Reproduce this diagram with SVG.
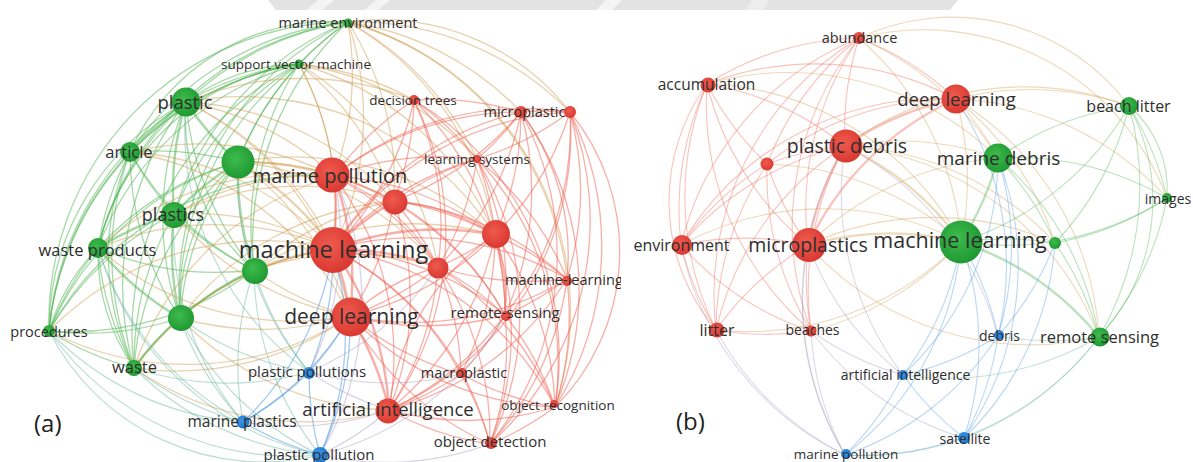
<svg xmlns="http://www.w3.org/2000/svg" width="1193" height="462" viewBox="0 0 1193 462">
<defs>
<style>
.g path,.r path,.b path,.o path,.t path,.p path{fill:none;stroke-linecap:round}
.g{stroke:#4db34f;stroke-opacity:.5;stroke-width:1.3}
.r{stroke:#f0604f;stroke-opacity:.5;stroke-width:1.3}
.b{stroke:#4a96e0;stroke-opacity:.5;stroke-width:1.3}
.o{stroke:#cf9a4c;stroke-opacity:.45;stroke-width:1.3}
.t{stroke:#6ab6a0;stroke-opacity:.45;stroke-width:1.2}
.p{stroke:#a89ac0;stroke-opacity:.45;stroke-width:1.2}
.w{stroke-width:2.4}
.lt{stroke-opacity:.38;stroke-width:1.1}
.ng{fill:url(#gg)}
.nr{fill:url(#gr)}
.nb{fill:url(#gb)}
text{font-family:"Open Sans","Noto Sans","DejaVu Sans",sans-serif;fill:#2e2e2e;text-anchor:middle}
.pl{font-size:24px;fill:#222;text-anchor:start}
</style>
<radialGradient id="gg" cx=".42" cy=".4" r=".62"><stop offset="0" stop-color="#3dbb4c"/><stop offset="1" stop-color="#1f9832"/></radialGradient>
<radialGradient id="gr" cx=".42" cy=".4" r=".62"><stop offset="0" stop-color="#f05a4f"/><stop offset="1" stop-color="#d83830"/></radialGradient>
<radialGradient id="gb" cx=".42" cy=".4" r=".62"><stop offset="0" stop-color="#3b98e8"/><stop offset="1" stop-color="#1d74cc"/></radialGradient>
<clipPath id="clipA"><rect x="0" y="0" width="621" height="462"/></clipPath>
</defs>
<rect width="1193" height="462" fill="#ffffff"/>
<g id="watermark" fill="#e3e3e3">
<path d="M268 0H958L950 10H276Z"/>
<path d="M306 10L318 0H334L322 10Z" fill="#f4f4f4"/>
<path d="M364 10L376 0H390L378 10Z" fill="#f4f4f4"/>
<path d="M596 10L606 0H622L612 10Z" fill="#f4f4f4"/>
<path d="M745 10L752 0H770L763 10Z" fill="#ededed"/>
</g>
<g id="connectors">
<g class="g">
<path d="M186 102A300 300 0 0 1 348 22"/><path d="M299 64A300 300 0 0 1 348 22"/><path d="M238 162A300 300 0 0 1 348 22"/><path d="M174 214A300 300 0 0 1 348 22"/><path d="M130 152A300 300 0 0 1 348 22"/><path d="M98 248A300 300 0 0 1 348 22"/><path d="M254 270A300 300 0 0 1 348 22"/><path d="M180 318A300 300 0 0 1 348 22"/><path d="M49 331A300 300 0 0 1 348 22"/>
<path d="M186 102A300 300 0 0 1 299 64"/><path d="M238 162A300 300 0 0 1 299 64"/><path d="M174 214A300 300 0 0 1 299 64"/><path d="M130 152A300 300 0 0 1 299 64"/><path d="M98 248A300 300 0 0 1 299 64"/><path d="M254 270A300 300 0 0 1 299 64"/><path d="M180 318A300 300 0 0 1 299 64"/><path d="M134 368A300 300 0 0 1 299 64"/><path d="M49 331A300 300 0 0 1 299 64"/>
<path class="w" d="M130 152A300 300 0 0 1 186 102"/><path class="w" d="M238 162A300 300 0 0 1 186 102"/><path class="w" d="M174 214A300 300 0 0 1 186 102"/><path d="M98 248A300 300 0 0 1 186 102"/><path d="M254 270A300 300 0 0 1 186 102"/><path d="M180 318A300 300 0 0 1 186 102"/><path d="M49 331A300 300 0 0 1 186 102"/><path d="M134 368A300 300 0 0 1 186 102"/>
<path d="M130 152A300 300 0 0 1 238 162"/><path d="M174 214A300 300 0 0 1 130 152"/><path d="M98 248A300 300 0 0 1 130 152"/><path d="M180 318A300 300 0 0 1 130 152"/><path d="M49 331A300 300 0 0 1 130 152"/><path d="M134 368A300 300 0 0 1 130 152"/><path d="M254 270A300 300 0 0 1 130 152"/>
<path class="w" d="M174 214A300 300 0 0 1 238 162"/><path d="M98 248A300 300 0 0 1 238 162"/><path class="w" d="M254 270A300 300 0 0 1 238 162"/><path d="M180 318A300 300 0 0 1 238 162"/><path d="M134 368A300 300 0 0 1 238 162"/><path d="M49 331A300 300 0 0 1 238 162"/>
<path class="w" d="M98 248A300 300 0 0 1 174 214"/><path d="M254 270A300 300 0 0 1 174 214"/><path class="w" d="M180 318A300 300 0 0 1 174 214"/><path d="M49 331A300 300 0 0 1 174 214"/><path d="M134 368A300 300 0 0 1 174 214"/>
<path d="M254 270A300 300 0 0 1 98 248"/><path class="w" d="M180 318A300 300 0 0 1 98 248"/><path d="M49 331A300 300 0 0 1 98 248"/><path d="M134 368A300 300 0 0 1 98 248"/>
<path class="w" d="M180 318A300 300 0 0 1 254 270"/><path d="M134 368A300 300 0 0 1 254 270"/><path d="M254 270A300 300 0 0 1 49 331"/><path d="M180 318A300 300 0 0 1 49 331"/><path d="M134 368A300 300 0 0 1 49 331"/><path class="w" d="M134 368A300 300 0 0 1 180 318"/>
<path d="M49 331A260 260 0 0 1 186 102"/><path d="M134 368A260 260 0 0 1 130 152"/><path d="M49 331A300 300 0 0 1 334 176"/>
<path d="M186 102A200 200 0 0 1 299 64"/><path d="M130 152A220 220 0 0 1 348 22"/><path d="M98 248A240 240 0 0 1 299 64"/><path d="M180 318A220 220 0 0 1 238 162"/><path d="M254 270A200 200 0 0 1 186 102"/><path d="M134 368A200 200 0 0 1 98 248"/><path d="M49 331A200 200 0 0 1 98 248"/>
</g>
<g class="t">
<path d="M243 422A300 300 0 0 1 49 331"/><path d="M320 455A300 300 0 0 1 49 331"/><path d="M243 422A300 300 0 0 1 134 368"/><path d="M320 455A300 300 0 0 1 134 368"/><path d="M309 372A300 300 0 0 1 134 368"/><path d="M309 372A300 300 0 0 1 180 318"/><path d="M243 422A300 300 0 0 1 180 318"/><path d="M320 455A300 300 0 0 1 180 318"/><path d="M309 372A300 300 0 0 1 254 270"/><path d="M320 455A300 300 0 0 1 254 270"/><path d="M243 422A300 300 0 0 1 254 270"/><path d="M243 422A300 300 0 0 1 98 248"/><path d="M320 455A300 300 0 0 1 98 248"/><path d="M309 372A300 300 0 0 1 238 162"/><path d="M243 422A300 300 0 0 1 174 214"/><path d="M309 372A300 300 0 0 1 186 102"/><path d="M320 455A240 240 0 0 1 49 331"/>
</g>
<g class="o">
<path class="w" d="M238 162A300 300 0 0 1 334 176"/><path class="w" d="M238 162A300 300 0 0 1 333 249"/><path d="M186 102A300 300 0 0 1 334 176"/><path d="M186 102A300 300 0 0 1 333 249"/><path d="M174 214A300 300 0 0 1 333 249"/><path d="M174 214A300 300 0 0 1 334 176"/><path class="w" d="M254 270A300 300 0 0 1 333 249"/><path d="M350 316A300 300 0 0 1 254 270"/><path d="M350 316A300 300 0 0 1 180 318"/><path d="M180 318A300 300 0 0 1 333 249"/><path d="M299 64A300 300 0 0 1 334 176"/><path d="M299 64A300 300 0 0 1 333 249"/><path d="M348 22A300 300 0 0 1 334 176"/><path d="M348 22A300 300 0 0 1 333 249"/><path d="M348 22A300 300 0 0 1 521 112"/><path d="M348 22A300 300 0 0 1 570 112"/><path d="M299 64A300 300 0 0 1 414 100"/><path d="M130 152A300 300 0 0 1 333 249"/><path d="M98 248A300 300 0 0 1 333 249"/><path d="M350 316A300 300 0 0 1 98 248"/><path d="M350 316A300 300 0 0 1 134 368"/><path d="M389 410A300 300 0 0 1 134 368"/><path d="M238 162A300 300 0 0 1 394 201"/><path d="M254 270A300 300 0 0 1 394 201"/><path d="M186 102A300 300 0 0 1 394 201"/><path d="M350 316A300 300 0 0 1 174 214"/><path d="M348 22A300 300 0 0 1 477 159"/><path d="M389 410A300 300 0 0 1 180 318"/><path d="M49 331A300 300 0 0 1 333 249"/><path d="M350 316A300 300 0 0 1 49 331"/><path d="M299 64A300 300 0 0 1 394 201"/><path d="M348 22A300 300 0 0 1 394 201"/><path d="M186 102A300 300 0 0 1 414 100"/><path d="M299 64A300 300 0 0 1 477 159"/><path d="M98 248A300 300 0 0 1 334 176"/><path d="M130 152A300 300 0 0 1 334 176"/><path d="M238 162A300 300 0 0 1 438 267"/><path d="M299 64A300 300 0 0 1 495 235"/><path d="M348 22A300 300 0 0 1 495 235"/><path d="M134 368A300 300 0 0 1 333 249"/><path d="M134 368A300 300 0 0 1 334 176"/><path d="M348 22A300 300 0 0 1 555 407"/><path d="M348 22A300 300 0 0 1 567 279"/><path d="M348 22A240 240 0 0 1 570 112"/><path d="M254 270A300 300 0 0 1 495 235"/><path d="M186 102A300 300 0 0 1 350 316"/><path d="M130 152A300 300 0 0 1 350 316"/>
<path d="M238 162A300 300 0 0 1 350 316"/><path d="M238 162A300 300 0 0 1 495 235"/><path d="M186 102A300 300 0 0 1 495 235"/><path d="M174 214A300 300 0 0 1 394 201"/><path d="M254 270A300 300 0 0 1 438 267"/><path d="M299 64A300 300 0 0 1 438 267"/><path d="M180 318A300 300 0 0 1 394 201"/>
</g>
<g class="r">
<path class="w" d="M334 176A300 300 0 0 1 333 249"/><path class="w" d="M334 176A300 300 0 0 1 350 316"/><path d="M334 176A300 300 0 0 1 394 201"/><path d="M334 176A300 300 0 0 1 495 235"/><path d="M334 176A300 300 0 0 1 438 267"/><path d="M334 176A300 300 0 0 1 414 100"/><path d="M334 176A300 300 0 0 1 521 112"/><path d="M334 176A300 300 0 0 1 477 159"/><path d="M334 176A300 300 0 0 1 505 315"/><path d="M334 176A300 300 0 0 1 389 410"/><path d="M334 176A300 300 0 0 1 570 112"/>
<path class="w" d="M333 249A300 300 0 0 1 350 316"/><path class="w" d="M333 249A300 300 0 0 1 394 201"/><path class="w" d="M333 249A300 300 0 0 1 495 235"/><path class="w" d="M333 249A300 300 0 0 1 438 267"/><path d="M414 100A300 300 0 0 1 333 249"/><path d="M333 249A300 300 0 0 1 521 112"/><path d="M333 249A300 300 0 0 1 570 112"/><path d="M333 249A300 300 0 0 1 477 159"/><path d="M333 249A300 300 0 0 1 567 279"/><path d="M333 249A300 300 0 0 1 505 315"/><path d="M333 249A300 300 0 0 1 461 374"/><path class="w" d="M333 249A300 300 0 0 1 389 410"/><path d="M333 249A300 300 0 0 1 555 407"/><path d="M333 249A300 300 0 0 1 490 444"/>
<path d="M394 201A300 300 0 0 1 350 316"/><path d="M495 235A300 300 0 0 1 350 316"/><path d="M438 267A300 300 0 0 1 350 316"/><path d="M505 315A300 300 0 0 1 350 316"/><path d="M567 279A300 300 0 0 1 350 316"/><path d="M461 374A300 300 0 0 1 350 316"/><path d="M555 407A300 300 0 0 1 350 316"/><path d="M490 444A300 300 0 0 1 350 316"/><path class="w" d="M350 316A300 300 0 0 1 389 410"/>
<path d="M394 201A300 300 0 0 1 495 235"/><path d="M394 201A300 300 0 0 1 438 267"/><path d="M414 100A300 300 0 0 1 394 201"/><path d="M521 112A300 300 0 0 1 394 201"/><path d="M394 201A300 300 0 0 1 477 159"/><path d="M394 201A300 300 0 0 1 505 315"/><path d="M394 201A300 300 0 0 1 389 410"/><path d="M394 201A300 300 0 0 1 567 279"/>
<path d="M495 235A300 300 0 0 1 438 267"/><path d="M521 112A300 300 0 0 1 495 235"/><path d="M570 112A300 300 0 0 1 495 235"/><path d="M477 159A300 300 0 0 1 495 235"/><path d="M495 235A300 300 0 0 1 567 279"/><path d="M495 235A300 300 0 0 1 505 315"/><path d="M495 235A300 300 0 0 1 461 374"/><path d="M495 235A300 300 0 0 1 389 410"/><path d="M495 235A300 300 0 0 1 555 407"/><path d="M495 235A300 300 0 0 1 490 444"/>
<path d="M521 112A300 300 0 0 1 438 267"/><path d="M477 159A300 300 0 0 1 438 267"/><path d="M567 279A300 300 0 0 1 438 267"/><path d="M438 267A300 300 0 0 1 505 315"/><path d="M438 267A300 300 0 0 1 461 374"/><path d="M438 267A300 300 0 0 1 389 410"/><path d="M438 267A300 300 0 0 1 490 444"/><path d="M438 267A300 300 0 0 1 555 407"/>
<path d="M414 100A300 300 0 0 1 521 112"/><path d="M414 100A300 300 0 0 1 477 159"/><path d="M414 100A300 300 0 0 1 438 267"/><path d="M521 112A300 300 0 0 1 570 112"/><path d="M521 112A300 300 0 0 1 477 159"/><path d="M521 112A300 300 0 0 1 505 315"/><path d="M570 112A300 300 0 0 1 477 159"/><path d="M570 112A300 300 0 0 1 567 279"/><path d="M570 112A300 300 0 0 1 505 315"/><path d="M570 112A300 300 0 0 1 555 407"/><path d="M570 112A300 300 0 0 1 490 444"/><path d="M477 159A300 300 0 0 1 505 315"/><path d="M477 159A300 300 0 0 1 567 279"/>
<path d="M567 279A300 300 0 0 1 505 315"/><path d="M567 279A300 300 0 0 1 555 407"/><path d="M567 279A300 300 0 0 1 490 444"/><path d="M505 315A300 300 0 0 1 461 374"/><path d="M505 315A300 300 0 0 1 555 407"/><path d="M505 315A300 300 0 0 1 490 444"/><path d="M461 374A300 300 0 0 1 389 410"/><path d="M555 407A300 300 0 0 1 461 374"/><path d="M461 374A300 300 0 0 1 490 444"/><path d="M490 444A300 300 0 0 1 389 410"/><path d="M555 407A300 300 0 0 1 389 410"/><path d="M555 407A300 300 0 0 1 490 444"/>
<path d="M414 100A300 300 0 0 1 555 407"/><path d="M521 112A300 300 0 0 1 490 444"/><path d="M570 112A300 300 0 0 1 389 410"/><path d="M521 112A300 300 0 0 1 555 407"/><path d="M477 159A300 300 0 0 1 555 407"/><path d="M477 159A300 300 0 0 1 490 444"/><path d="M414 100A300 300 0 0 1 505 315"/><path d="M414 100A300 300 0 0 1 389 410"/><path d="M505 315A300 300 0 0 1 389 410"/><path d="M567 279A300 300 0 0 1 389 410"/><path d="M570 112A220 220 0 0 1 555 407"/><path d="M521 112A240 240 0 0 1 567 279"/>
<path d="M394 201A220 220 0 0 1 495 235"/><path d="M350 316A220 220 0 0 1 438 267"/><path d="M334 176A220 220 0 0 1 438 267"/><path d="M495 235A200 200 0 0 1 505 315"/><path d="M389 410A240 240 0 0 1 495 235"/>
</g>
<g class="b">
<path d="M309 372A300 300 0 0 1 243 422"/><path d="M320 455A300 300 0 0 1 309 372"/><path d="M320 455A300 300 0 0 1 243 422"/><path d="M350 316A300 300 0 0 1 309 372"/><path d="M333 249A300 300 0 0 1 309 372"/><path d="M350 316A300 300 0 0 1 320 455"/><path d="M333 249A300 300 0 0 1 320 455"/><path d="M333 249A300 300 0 0 1 243 422"/><path d="M350 316A300 300 0 0 1 243 422"/>
</g>
<g class="p">
<path d="M389 410A300 300 0 0 1 320 455"/><path d="M389 410A300 300 0 0 1 243 422"/><path d="M389 410A300 300 0 0 1 309 372"/><path d="M334 176A300 300 0 0 1 309 372"/><path d="M334 176A300 300 0 0 1 320 455"/><path d="M490 444A300 300 0 0 1 320 455"/><path d="M461 374A300 300 0 0 1 309 372"/><path d="M505 315A300 300 0 0 1 320 455"/><path d="M438 267A300 300 0 0 1 309 372"/>
</g>
<g class="r lt">
<path d="M707 84A300 300 0 0 1 859 38"/><path d="M845 146A300 300 0 0 1 859 38"/><path d="M767 164A300 300 0 0 1 859 38"/><path d="M681 245A300 300 0 0 1 859 38"/><path d="M808 245A300 300 0 0 1 859 38"/><path d="M859 38A300 300 0 0 1 956 99"/><path d="M716 330A300 300 0 0 1 859 38"/><path d="M811 331A300 300 0 0 1 859 38"/>
<path d="M767 164A300 300 0 0 1 707 84"/><path d="M707 84A300 300 0 0 1 845 146"/><path d="M681 245A300 300 0 0 1 707 84"/><path d="M808 245A300 300 0 0 1 707 84"/><path d="M716 330A300 300 0 0 1 707 84"/><path d="M716 330A200 200 0 0 1 707 84"/><path d="M811 331A300 300 0 0 1 707 84"/><path d="M707 84A300 300 0 0 1 956 99"/>
<path d="M767 164A300 300 0 0 1 845 146"/><path d="M681 245A300 300 0 0 1 845 146"/><path class="w" d="M808 245A300 300 0 0 1 845 146"/><path d="M716 330A300 300 0 0 1 845 146"/><path d="M811 331A300 300 0 0 1 845 146"/><path class="w" d="M845 146A300 300 0 0 1 956 99"/>
<path d="M681 245A300 300 0 0 1 767 164"/><path d="M808 245A300 300 0 0 1 767 164"/><path d="M716 330A300 300 0 0 1 767 164"/><path d="M811 331A300 300 0 0 1 767 164"/><path d="M767 164A300 300 0 0 1 956 99"/>
<path d="M681 245A300 300 0 0 1 808 245"/><path d="M716 330A300 300 0 0 1 681 245"/><path d="M811 331A300 300 0 0 1 681 245"/><path d="M681 245A300 300 0 0 1 956 99"/><path d="M811 331A300 300 0 0 1 808 245"/><path d="M716 330A300 300 0 0 1 808 245"/><path class="w" d="M808 245A300 300 0 0 1 956 99"/><path d="M811 331A300 300 0 0 1 716 330"/>
</g>
<g class="o lt">
<path d="M845 146A300 300 0 0 1 998 158"/><path class="w" d="M845 146A300 300 0 0 1 961 242"/><path class="w" d="M808 245A300 300 0 0 1 961 242"/><path d="M808 245A300 300 0 0 1 998 158"/><path d="M956 99A300 300 0 0 1 998 158"/><path d="M956 99A300 300 0 0 1 961 242"/><path d="M956 99A300 300 0 0 1 1129 106"/><path d="M956 99A300 300 0 0 1 1167 198"/><path d="M956 99A300 300 0 0 1 1055 243"/><path d="M859 38A220 220 0 0 1 1129 106"/><path d="M859 38A300 300 0 0 1 998 158"/><path d="M845 146A300 300 0 0 1 1129 106"/><path d="M808 245A300 300 0 0 1 1055 243"/><path d="M845 146A300 300 0 0 1 1055 243"/><path d="M681 245A300 300 0 0 1 961 242"/><path d="M961 242A300 300 0 0 1 716 330"/><path d="M961 242A300 300 0 0 1 811 331"/><path d="M707 84A300 300 0 0 1 961 242"/><path d="M859 38A300 300 0 0 1 961 242"/><path d="M845 146A300 300 0 0 1 1099 337"/><path d="M859 38A260 260 0 0 1 1167 198"/><path d="M956 99A300 300 0 0 1 1099 337"/><path d="M707 84A300 300 0 0 1 998 158"/><path d="M1099 337A300 300 0 0 1 808 245"/><path d="M767 164A300 300 0 0 1 961 242"/>
</g>
<g class="g lt">
<path d="M1129 106A300 300 0 0 1 1167 198"/><path d="M1129 106A110 110 0 0 1 1167 198"/><path d="M998 158A300 300 0 0 1 1129 106"/><path d="M1129 106A300 300 0 0 1 961 242"/><path d="M1129 106A300 300 0 0 1 1055 243"/><path d="M1129 106A300 300 0 0 1 1099 337"/><path class="w" d="M998 158A300 300 0 0 1 961 242"/><path d="M998 158A300 300 0 0 1 1167 198"/><path d="M998 158A300 300 0 0 1 1055 243"/><path d="M998 158A300 300 0 0 1 1099 337"/><path d="M961 242A300 300 0 0 1 1055 243"/><path class="w" d="M961 242A300 300 0 0 1 1099 337"/><path d="M1167 198A300 300 0 0 1 961 242"/><path d="M1167 198A300 300 0 0 1 1099 337"/><path d="M1055 243A300 300 0 0 1 1099 337"/><path d="M1167 198A300 300 0 0 1 1055 243"/><path d="M1129 106A200 200 0 0 1 1099 337"/>
</g>
<g class="b lt">
<path d="M998 336A300 300 0 0 1 903 375"/><path d="M998 336A300 300 0 0 1 964 438"/><path d="M998 336A300 300 0 0 1 845 455"/><path d="M903 375A300 300 0 0 1 845 455"/><path d="M964 438A300 300 0 0 1 903 375"/><path d="M964 438A300 300 0 0 1 845 455"/><path d="M961 242A300 300 0 0 1 998 336"/><path d="M961 242A300 300 0 0 1 903 375"/><path d="M961 242A300 300 0 0 1 964 438"/><path d="M961 242A300 300 0 0 1 845 455"/><path d="M998 158A300 300 0 0 1 998 336"/><path d="M998 158A300 300 0 0 1 903 375"/><path d="M998 158A300 300 0 0 1 964 438"/><path d="M1055 243A300 300 0 0 1 998 336"/><path d="M1055 243A300 300 0 0 1 964 438"/><path d="M956 99A300 300 0 0 1 998 336"/>
</g>
<g class="t lt">
<path d="M1099 337A300 300 0 0 1 998 336"/><path d="M1099 337A300 300 0 0 1 964 438"/><path d="M1099 337A300 300 0 0 1 903 375"/><path d="M1099 337A300 300 0 0 1 845 455"/>
</g>
<g class="p lt">
<path d="M845 455A300 300 0 0 1 808 245"/><path d="M845 455A300 300 0 0 1 811 331"/><path d="M903 375A300 300 0 0 1 808 245"/><path d="M903 375A300 300 0 0 1 811 331"/><path d="M964 438A300 300 0 0 1 811 331"/><path d="M845 146A300 300 0 0 1 998 336"/><path d="M845 455A300 300 0 0 1 845 146"/><path d="M903 375A300 300 0 0 1 845 146"/><path d="M845 455A300 300 0 0 1 716 330"/><path d="M845 455A300 300 0 0 1 681 245"/>
</g>
</g>
<g id="nodes-a">
<g id="a-marine-environment"><circle class="ng" cx="348" cy="23" r="4.5"/><text x="348" y="28" font-size="14.5">marine environment</text></g>
<g id="a-support-vector-machine"><circle class="ng" cx="299" cy="64" r="4.5"/><text x="296" y="68.5" font-size="13.5">support vector machine</text></g>
<g id="a-decision-trees"><circle class="nr" cx="414" cy="100" r="5"/><text x="413" y="105" font-size="13.5">decision trees</text></g>
<g id="a-node-r9"><circle class="nr" cx="570" cy="112" r="6"/></g>
<g id="a-microplastic"><circle class="nr" cx="521" cy="112" r="6"/><text x="524.5" y="117" font-size="14.5">microplastic</text></g>
<g id="a-learning-systems"><circle class="nr" cx="477" cy="159" r="4"/><text x="477" y="164" font-size="13.5">learning systems</text></g>
<g id="a-machine-learning-hyphen" clip-path="url(#clipA)"><circle class="nr" cx="567" cy="281" r="5"/><text x="505" y="285" font-size="14.5" style="text-anchor:start">machine-learning</text></g>
<g id="a-remote-sensing"><circle class="nr" cx="506" cy="316" r="5"/><text x="505" y="317.5" font-size="15">remote-sensing</text></g>
<g id="a-macroplastic"><circle class="nr" cx="462" cy="373" r="5"/><text x="464" y="377.5" font-size="14.5">macroplastic</text></g>
<g id="a-object-recognition"><circle class="nr" cx="554" cy="404" r="4"/><text x="558" y="410" font-size="13.5">object recognition</text></g>
<g id="a-object-detection"><circle class="nr" cx="491" cy="443" r="6"/><text x="490" y="447" font-size="15">object detection</text></g>
<g id="a-procedures"><circle class="ng" cx="49" cy="331" r="6"/><text x="49" y="336.5" font-size="14.5">procedures</text></g>
<g id="a-waste"><circle class="ng" cx="134" cy="368" r="8"/><text x="134.5" y="373" font-size="16.5">waste</text></g>
<g id="a-plastic-pollutions"><circle class="nb" cx="309" cy="373" r="6"/><text x="307" y="377" font-size="15">plastic pollutions</text></g>
<g id="a-marine-plastics"><circle class="nb" cx="243" cy="422" r="6.5"/><text x="242" y="427" font-size="15.5">marine plastics</text></g>
<g id="a-plastic-pollution"><circle class="nb" cx="320" cy="455" r="8"/><text x="319" y="460" font-size="15">plastic pollution</text></g>
<g id="a-article"><circle class="ng" cx="130" cy="152" r="10"/><text x="129" y="158" font-size="16.5">article</text></g>
<g id="a-waste-products"><circle class="ng" cx="98" cy="248" r="10"/><text x="97.5" y="256" font-size="16.5">waste products</text></g>
<g id="a-node-g8"><circle class="ng" cx="255" cy="271" r="13"/></g>
<g id="a-node-g9"><circle class="ng" cx="181" cy="318" r="13"/></g>
<g id="a-node-g5"><circle class="ng" cx="238" cy="162" r="16.5"/></g>
<g id="a-plastics"><circle class="ng" cx="174" cy="215" r="13"/><text x="173" y="220.5" font-size="18">plastics</text></g>
<g id="a-plastic"><circle class="ng" cx="186" cy="102" r="14.5"/><text x="185" y="109" font-size="18.5">plastic</text></g>
<g id="a-node-r4"><circle class="nr" cx="395" cy="202" r="12.5"/></g>
<g id="a-node-r5"><circle class="nr" cx="496" cy="234" r="14"/></g>
<g id="a-node-r6"><circle class="nr" cx="438" cy="268" r="10.5"/></g>
<g id="a-artificial-intelligence"><circle class="nr" cx="388" cy="411" r="12.5"/><text x="388" y="415.5" font-size="18.5">artificial intelligence</text></g>
<g id="a-marine-pollution"><circle class="nr" cx="332" cy="175" r="17.5"/><text x="330" y="182.5" font-size="20">marine pollution</text></g>
<g id="a-deep-learning"><circle class="nr" cx="351" cy="317" r="19.5"/><text x="351.5" y="324" font-size="21">deep learning</text></g>
<g id="a-machine-learning"><circle class="nr" cx="333" cy="250" r="23"/><text x="333.5" y="257.5" font-size="23.5">machine learning</text></g>
<text class="pl" x="34" y="432">(a)</text>
</g>
<g id="nodes-b">
<g id="b-abundance"><circle class="nr" cx="859" cy="38" r="6"/><text x="859.5" y="43" font-size="14.5">abundance</text></g>
<g id="b-accumulation"><circle class="nr" cx="708" cy="85" r="7.5"/><text x="706.5" y="90" font-size="15.5">accumulation</text></g>
<g id="b-node-f"><circle class="nr" cx="767" cy="164" r="6.5"/></g>
<g id="b-images"><circle class="ng" cx="1167" cy="198" r="5"/><text x="1168" y="204" font-size="14">images</text></g>
<g id="b-node-l"><circle class="ng" cx="1055" cy="243" r="6"/></g>
<g id="b-litter"><circle class="nr" cx="717" cy="330" r="7.5"/><text x="717" y="335.5" font-size="16">litter</text></g>
<g id="b-beaches"><circle class="nr" cx="811" cy="331" r="5.5"/><text x="812.5" y="335" font-size="14">beaches</text></g>
<g id="b-debris"><circle class="nb" cx="999" cy="335" r="5"/><text x="999.5" y="340.5" font-size="14">debris</text></g>
<g id="b-artificial-intelligence"><circle class="nb" cx="903" cy="375" r="5"/><text x="905.5" y="380" font-size="14">artificial intelligence</text></g>
<g id="b-satellite"><circle class="nb" cx="964" cy="438" r="6"/><text x="965" y="444" font-size="14">satellite</text></g>
<g id="b-marine-pollution"><circle class="nb" cx="846" cy="454" r="5"/><text x="846" y="458.5" font-size="13.5">marine pollution</text></g>
<g id="b-environment"><circle class="nr" cx="682" cy="245" r="10"/><text x="681.5" y="251" font-size="16">environment</text></g>
<g id="b-beach-litter"><circle class="ng" cx="1129" cy="106" r="9"/><text x="1128.5" y="112" font-size="16">beach litter</text></g>
<g id="b-remote-sensing"><circle class="ng" cx="1100" cy="337" r="9.5"/><text x="1099.5" y="343" font-size="16.5">remote sensing</text></g>
<g id="b-deep-learning"><circle class="nr" cx="956" cy="99" r="14.5"/><text x="956.5" y="106" font-size="18.5">deep learning</text></g>
<g id="b-marine-debris"><circle class="ng" cx="998" cy="158" r="14.5"/><text x="998.5" y="165" font-size="19">marine debris</text></g>
<g id="b-plastic-debris"><circle class="nr" cx="846" cy="146" r="16.5"/><text x="847" y="153" font-size="19.5">plastic debris</text></g>
<g id="b-microplastics"><circle class="nr" cx="809" cy="245" r="17"/><text x="808" y="251.5" font-size="19.5">microplastics</text></g>
<g id="b-machine-learning"><circle class="ng" cx="961" cy="242" r="21.5"/><text x="960" y="248" font-size="21.5">machine learning</text></g>
<text class="pl" x="676" y="430">(b)</text>
</g>
</svg>
